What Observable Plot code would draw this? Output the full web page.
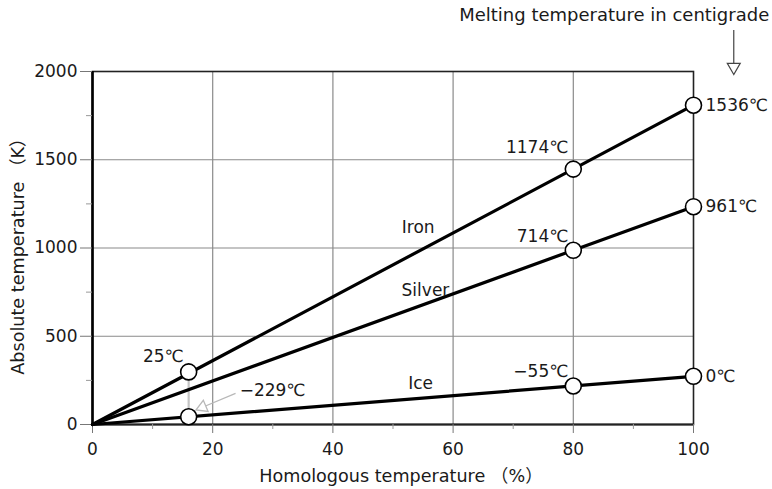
<!DOCTYPE html>
<html>
<head>
<meta charset="utf-8">
<script src="https://cdn.jsdelivr.net/npm/d3@7"></script>
<script src="https://cdn.jsdelivr.net/npm/@observablehq/plot@0.6"></script>
<style>
  html, body { margin: 0; padding: 0; background: #fff; }
  #chart svg { display: block; }
</style>
</head>
<body>
<div id="chart"></div>
<script>
// ---- data ----
const materials = ["Iron", "Silver", "Ice"];
const meltK = [1809, 1234, 273];            // melting point in K (=100 %)
const lineLabelX = [54.2, 55.4, 54.6];      // where the material names sit
const lineLabelY = [1116, 759, 232];

// marked points at 100 %
const endX = [100, 100, 100];
const endK = [1809, 1234, 273];
const endLabel = ["1536℃", "961℃", "0℃"];

// marked points at 80 %
const midX = [80, 80, 80];
const midK = [1447, 987, 218];
const midLabel = ["1174℃", "714℃", "−55℃"];

// room temperature comparison (~16 %)
const lowX = [16, 16];
const lowK = [298, 44];
const lowLabel = ["25℃", "−229℃"];

const xTicks = [0, 20, 40, 60, 80, 100];
const xMinor = [10, 30, 50, 70, 90];
const yTicks = [0, 500, 1000, 1500, 2000];
const yMinor = [250, 750, 1250, 1750];

// ---- build tables ----
const lines = materials.flatMap((m, i) => [
  {m, x: 0, y: 0}, {m, x: 100, y: meltK[i]}
]);
const lineLabels = materials.map((m, i) => ({m, x: lineLabelX[i], y: lineLabelY[i]}));
const ends = endX.map((x, i) => ({x, y: endK[i], t: endLabel[i]}));
const mids = midX.map((x, i) => ({x, y: midK[i], t: midLabel[i]}));
const lows = lowX.map((x, i) => ({x, y: lowK[i], t: lowLabel[i]}));

const font = "'DejaVu Sans', 'Noto Sans CJK JP', sans-serif";
const ink = "#1a1a1a";
const fs = 17;

const chart = Plot.plot({
  width: 772,
  height: 489,
  marginLeft: 92,
  marginRight: 79,
  marginTop: 71,
  marginBottom: 65,
  style: {fontFamily: font, fontSize: fs + "px", color: ink, background: "#fff"},
  x: {domain: [0, 100]},
  y: {domain: [0, 2000]},
  marks: [
    Plot.gridX([20, 40, 60, 80], {stroke: "#8a8a8a", strokeOpacity: 1, strokeWidth: 1.2}),
    Plot.gridY([500, 1000, 1500], {stroke: "#8a8a8a", strokeOpacity: 1, strokeWidth: 1.2}),
    Plot.frame({stroke: "#222", strokeWidth: 1.6}),
    Plot.ruleX([0], {stroke: "#000", strokeWidth: 2.6}),
    Plot.ruleY([0], {stroke: "#222", strokeWidth: 2}),
    Plot.axisX(xTicks, {tickSize: 9, tickPadding: 9, stroke: "#777", fontSize: fs, fill: ink, label: null, tickFormat: d => String(d)}),
    Plot.axisX(xMinor, {tickSize: 5, text: null, stroke: "#999", label: null}),
    Plot.axisY(yTicks, {tickSize: 12, tickPadding: 3, stroke: "#777", fontSize: fs, fill: ink, label: null, tickFormat: d => String(d)}),
    Plot.axisY(yMinor, {tickSize: 6, text: null, stroke: "#999", label: null}),
    // axis titles
    Plot.text(["Homologous temperature （%）"], {frameAnchor: "bottom", dx: 8, dy: 57, fontSize: 17.6, fill: ink}),
    Plot.text(["Absolute temperature （K）"], {frameAnchor: "left", textAnchor: "middle", dx: -74, dy: 4, rotate: -90, fontSize: 17.6, fill: ink}),
    // melting-temperature note and arrow
    Plot.text([{x: 112.6, y: 2317, t: "Melting temperature in centigrade"}], {x: "x", y: "y", text: "t", textAnchor: "end", fontSize: 18, fill: ink, clip: false}),
    Plot.ruleX([106.7], {y1: 2232, y2: 2045, stroke: "#444", strokeWidth: 1.2, clip: false}),
    Plot.dot([{x: 106.7, y: 2025}], {x: "x", y: "y", symbol: "triangle", rotate: 180, r: 4.8, fill: "#fff", stroke: "#444", strokeWidth: 1.2}),
    // gray connector between 25℃ and −229℃
    Plot.ruleX([16], {y1: 44, y2: 298, stroke: "#c4c4c4", strokeWidth: 2.2}),
    Plot.link([{x1: 23.8, y1: 176, x2: 18.6, y2: 102}], {x1: "x1", y1: "y1", x2: "x2", y2: "y2", stroke: "#b8b8b8", strokeWidth: 1.3}),
    Plot.dot([{x: 18.3, y: 98}], {x: "x", y: "y", symbol: "triangle", rotate: 247, r: 4.5, fill: "#fff", stroke: "#b8b8b8", strokeWidth: 1.3}),
    // lines
    Plot.line(lines, {x: "x", y: "y", z: "m", stroke: "#000", strokeWidth: 3.2}),
    Plot.text(lineLabels, {x: "x", y: "y", text: "m", fontSize: fs, fill: ink}),
    // points
    Plot.dot([...ends, ...mids, ...lows], {x: "x", y: "y", r: 8, fill: "#fff", stroke: "#000", strokeWidth: 1.6}),
    Plot.text(ends, {x: "x", y: "y", text: "t", textAnchor: "start", dx: 12, fontSize: fs, fill: ink}),
    Plot.text(mids.slice(0, 1), {x: "x", y: "y", text: "t", textAnchor: "end", dx: -5, dy: -22, fontSize: fs, fill: ink}),
    Plot.text(mids.slice(1), {x: "x", y: "y", text: "t", textAnchor: "end", dx: -5, dy: -14, fontSize: fs, fill: ink}),
    Plot.text(lows.slice(0, 1), {x: "x", y: "y", text: "t", textAnchor: "end", dx: -5, dy: -15, fontSize: fs, fill: ink}),
    Plot.text(lows.slice(1), {x: "x", y: "y", text: "t", textAnchor: "start", dx: 51, dy: -26, fontSize: fs, fill: ink})
  ]
});
document.getElementById("chart").appendChild(chart);
</script>
</body>
</html>
